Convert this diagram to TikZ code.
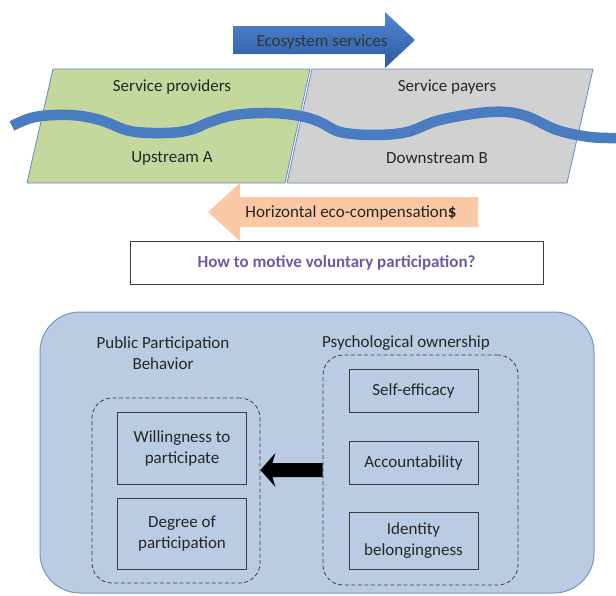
\documentclass[tikz,border=0pt]{standalone}
\usepackage{fontspec}
\setmainfont{Carlito}
\usetikzlibrary{calc}
\definecolor{greenfill}{RGB}{196,215,157}
\definecolor{grayfill}{RGB}{209,209,209}
\definecolor{edgeblue}{RGB}{98,137,199}
\definecolor{river}{RGB}{74,124,194}
\definecolor{arrtop}{RGB}{82,135,210}
\definecolor{arrbot}{RGB}{44,90,162}
\definecolor{peach}{RGB}{250,200,164}
\definecolor{qpurple}{RGB}{112,88,162}
\definecolor{panel}{RGB}{185,204,228}
\definecolor{paneledge}{RGB}{118,148,194}
\definecolor{boxedge}{RGB}{60,60,60}
\tikzset{
  txt/.style={font=\fontsize{17}{21}\selectfont, text=black!85, align=center, inner sep=0pt},
  bx/.style={draw=boxedge, line width=1pt, minimum width=129pt, align=center, inner sep=0pt,
    font=\fontsize{17}{21}\selectfont, text=black!85},
  dashbox/.style={draw=black!75, line width=0.8pt, dash pattern=on 4pt off 2.5pt, rounded corners=20pt, inner sep=0pt}
}
\begin{document}
\begin{tikzpicture}[x=1pt,y=-1pt]
\useasboundingbox (0,0) rectangle (616,595);
% ecosystem services arrow
\shade[top color=arrtop, bottom color=arrbot] (233,26) -- (385,26) -- (385,12) -- (415,40) -- (385,68) -- (385,54) -- (233,54) -- cycle;
\node[txt, text=black!80] (eco) at (322,42) {Ecosystem services};
% parallelograms
\draw[fill=greenfill, draw=edgeblue, line width=0.8pt] (53,69) -- (310,69) -- (285,183) -- (27,183) -- cycle;
\draw[fill=grayfill, draw=edgeblue, line width=0.8pt] (312,69) -- (593,69) -- (567,183) -- (287,183) -- cycle;
\node[txt] (sp) at (172,87) {Service providers};
\node[txt] (spay) at (447,87) {Service payers};
\node[txt] (ua) at (172,158) {Upstream A};
\node[txt] (db) at (437,158) {Downstream B};
% river
\draw[river, line width=10.5pt, line cap=butt] plot[smooth, tension=0.6] coordinates {
 (12,126) (35,117) (70,115) (100,120) (130,131) (165,133) (190,130) (210,122) (235,115) (270,113) (300,116) (320,122) (340,132) (373,135) (407,132) (440,120) (490,112) (523,115) (557,130) (590,137) (618,138)};
% compensation arrow
\fill[peach] (478,197) -- (240,197) -- (240,183) -- (208,212) -- (240,241) -- (240,227) -- (478,227) -- cycle;
\node[txt] (hc) at (351,213) {Horizontal eco-compensation\textbf{\$}};
% question box
\node[draw=boxedge, line width=1pt, minimum width=413pt, minimum height=43pt, inner sep=0pt,
  font=\bfseries\fontsize{17}{20}\selectfont, text=qpurple] (q) at (336.5,262.5) {How to motive voluntary participation?};
% panel
\draw[fill=panel, draw=paneledge, line width=1pt, rounded corners=40pt] (40,312) rectangle (594,593);
\node[txt] (ppb) at (163,353.5) {Public Participation\\Behavior};
\node[txt] (po) at (406,343) {Psychological ownership};
\node[dashbox, minimum width=168pt, minimum height=185pt] (ld) at (176,490.5) {};
\node[dashbox, minimum width=195pt, minimum height=230pt] (rd) at (420.5,470) {};
\node[bx, minimum height=72pt] (will) at (182,448) {Willingness to\\participate};
\node[bx, minimum height=71pt] (deg) at (182,533.5) {Degree of\\participation};
\node[bx, minimum height=43pt] (self) at (413.5,390.5) {Self-efficacy};
\node[bx, minimum height=43pt] (acc) at (413.5,462.5) {Accountability};
\node[bx, minimum height=57pt] (ident) at (413.5,540.5) {Identity\\belongingness};
% black arrow from rd to ld
\coordinate (as) at (rd.west |- 0,470);
\coordinate (ae) at (ld.east |- 0,470);
\fill[black] (as) ++(0,-7) -- ($(ae)+(12,-7)$) -- ($(ae)+(15,-17)$) -- (ae) -- ($(ae)+(15,17)$) -- ($(ae)+(12,7)$) -- ($(as)+(0,7)$) -- cycle;
\end{tikzpicture}
\end{document}
